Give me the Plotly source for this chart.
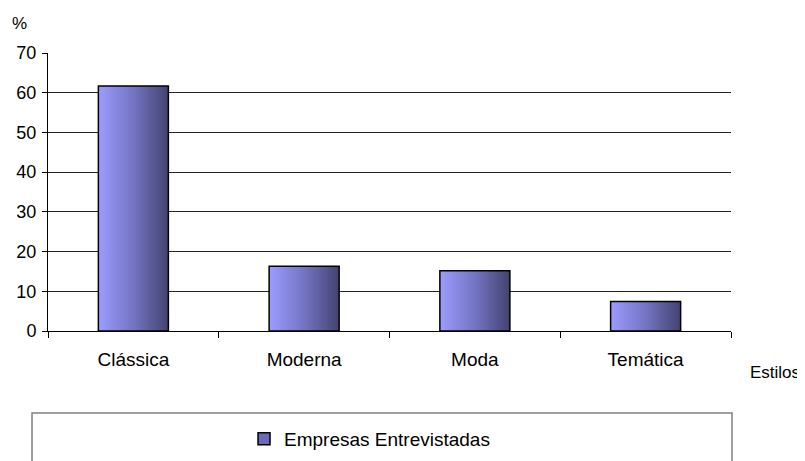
import plotly.graph_objects as go

categories = ["Clássica", "Moderna", "Moda", "Temática"]
values = [61.7, 16.3, 15.2, 7.4]
series_name = "Empresas Entrevistadas"
y_ticks = [0, 10, 20, 30, 40, 50, 60, 70]

BAR_W = 0.41
FONT = "Liberation Sans, Arial, sans-serif"
GRAD = [[0, "#9c9cff"], [0.5, "#7474c4"], [1, "#434370"]]

fig = go.Figure()
for i, (cat, v) in enumerate(zip(categories, values)):
    c = i + 0.5
    x0, x1 = c - BAR_W / 2, c + BAR_W / 2
    fig.add_trace(go.Scatter(
        x=[x0, x0, x1, x1, x0], y=[0, v, v, 0, 0],
        mode="lines", fill="toself",
        fillgradient=dict(type="horizontal", colorscale=GRAD),
        line=dict(color="black", width=1.5),
        name=cat, showlegend=False,
        hoverinfo="skip",
    ))

# legend entry (square icon)
fig.add_trace(go.Bar(
    x=[None], y=[None], name=series_name,
    marker=dict(color="#6a6ab8", line=dict(color="black", width=1.5)),
    showlegend=True,
))

fig.update_layout(
    width=797, height=453,
    margin=dict(l=40, r=74, t=45, b=130),
    paper_bgcolor="white", plot_bgcolor="white",
    font=dict(family=FONT, size=18, color="black"),
    showlegend=True,
    legend=dict(orientation="h", x=0.287, y=0.0486, xanchor="left", yanchor="middle",
                yref="container",
                font=dict(size=19, family=FONT), bgcolor="rgba(0,0,0,0)",
                borderwidth=0),
    xaxis=dict(range=[0, 4], tickvals=[0.5, 1.5, 2.5, 3.5], ticktext=categories,
               ticks="", showgrid=False, zeroline=False, automargin=False,
               showline=True, linecolor="black", linewidth=1,
               tickfont=dict(size=19), ticklabelstandoff=11, fixedrange=True,
               minor=dict(tickvals=[0, 1, 2, 3, 4], ticks="outside", ticklen=6,
                          tickcolor="black", showgrid=False)),
    yaxis=dict(range=[0, 70], tickvals=y_ticks, ticks="outside", ticklen=5,
               tickcolor="black", showgrid=False, zeroline=False, automargin=False,
               showline=True, linecolor="black", linewidth=1,
               tickfont=dict(size=18), ticklabelstandoff=2, fixedrange=True,
               minor=dict(tickvals=y_ticks[1:-1], showgrid=True,
                          gridcolor="#222222", gridwidth=1, ticks="")),
    annotations=[
        dict(text="%", xref="paper", yref="paper", x=-0.056, y=1.106,
             xanchor="left", yanchor="middle", showarrow=False, font=dict(size=17)),
        dict(text="Estilos", xref="paper", yref="paper", x=1.0249, y=-0.151,
             xanchor="left", yanchor="middle", showarrow=False, font=dict(size=17)),
    ],
    shapes=[
        dict(type="rect", xref="paper", yref="paper", x0=-0.0234, x1=1.0015,
             y0=-0.62, y1=-0.295, line=dict(color="#808080", width=1.5),
             fillcolor="rgba(0,0,0,0)", layer="below"),
    ],
)

fig.write_html("out.html")
